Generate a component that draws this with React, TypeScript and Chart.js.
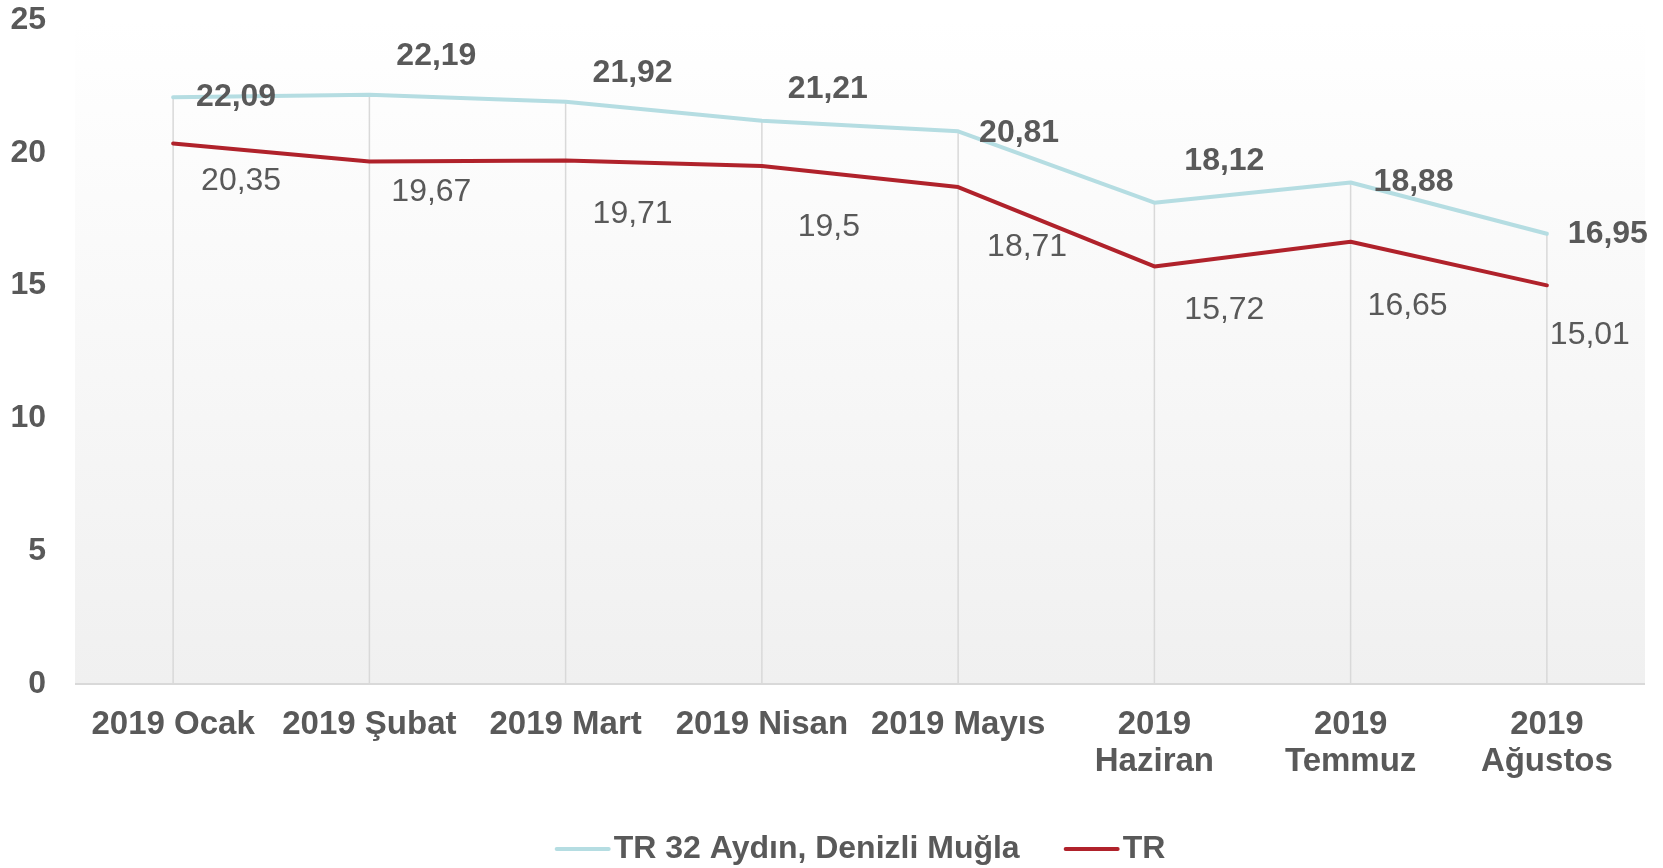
import React, { useEffect, useRef } from 'react';
import { Chart, registerables } from 'chart.js';

Chart.register(...registerables);

// ---- data ----
const categories: (string | string[])[] = [
  '2019 Ocak',
  '2019 Şubat',
  '2019 Mart',
  '2019 Nisan',
  '2019 Mayıs',
  ['2019', 'Haziran'],
  ['2019', 'Temmuz'],
  ['2019', 'Ağustos'],
];
const regionName = 'TR 32 Aydın, Denizli Muğla';
const regionValues = [22.09, 22.19, 21.92, 21.21, 20.81, 18.12, 18.88, 16.95];
const trName = 'TR';
const trValues = [20.35, 19.67, 19.71, 19.5, 18.71, 15.72, 16.65, 15.01];
const yTickValues = [0, 5, 10, 15, 20, 25];

// ---- label placement (offset of label centre from its point) ----
const regionLabelOffsets = [[63, 0], [67, -38], [67, -29], [66, -31], [61, 2], [70, -42], [63, 0], [61, 0]];
const trLabelOffsets = [[68, 38], [62, 31], [67, 54], [67, 61], [69, 60], [70, 44], [57, 64], [43, 50]];

// ---- style ----
const FONT = '"Liberation Sans", Arial, Helvetica, sans-serif';
const TEXT = '#595959';
const CYAN = '#b5dde2';
const RED = '#b0222b';
const GRID = '#d9d9d9';

const fmt = (v: number) => String(v).replace('.', ',');

const decorPlugin = {
  id: 'decor',
  beforeDraw(chart: any) {
    const { ctx, chartArea: a, scales } = chart;
    const x = scales.x;
    const y = scales.y;
    ctx.save();
    const g = ctx.createLinearGradient(0, a.top, 0, a.bottom);
    g.addColorStop(0, '#ffffff');
    g.addColorStop(1, '#f0f0f0');
    ctx.fillStyle = g;
    ctx.fillRect(a.left, a.top, a.right - a.left, a.bottom - a.top);
    ctx.strokeStyle = GRID;
    ctx.lineWidth = 1.5;
    categories.forEach((_, i) => {
      const px = x.getPixelForValue(i);
      const top = y.getPixelForValue(Math.max(regionValues[i], trValues[i]));
      ctx.beginPath();
      ctx.moveTo(px, top);
      ctx.lineTo(px, a.bottom);
      ctx.stroke();
    });
    ctx.lineWidth = 2;
    ctx.beginPath();
    ctx.moveTo(a.left, a.bottom);
    ctx.lineTo(a.right, a.bottom);
    ctx.stroke();
    ctx.restore();
  },
  afterDatasetsDraw(chart: any) {
    const { ctx, scales } = chart;
    const x = scales.x;
    const y = scales.y;
    ctx.save();
    ctx.fillStyle = TEXT;
    ctx.textAlign = 'center';
    ctx.textBaseline = 'middle';
    ctx.font = `bold 32px ${FONT}`;
    regionValues.forEach((v, i) => {
      const [dx, dy] = regionLabelOffsets[i];
      ctx.fillText(fmt(v), x.getPixelForValue(i) + dx, y.getPixelForValue(v) + dy);
    });
    ctx.font = `32px ${FONT}`;
    trValues.forEach((v, i) => {
      const [dx, dy] = trLabelOffsets[i];
      ctx.fillText(fmt(v), x.getPixelForValue(i) + dx, y.getPixelForValue(v) + dy);
    });
    ctx.restore();
  },
  afterDraw(chart: any) {
    const { ctx, chartArea: a } = chart;
    const items = chart.data.datasets.map((d: any) => ({ label: d.label, color: d.borderColor }));
    ctx.save();
    ctx.font = `bold 32px ${FONT}`;
    ctx.textBaseline = 'middle';
    ctx.textAlign = 'left';
    const lineW = 56;
    const gap = 3;
    const spacing = 44;
    const widths = items.map((it: any) => lineW + gap + ctx.measureText(it.label).width);
    const total = widths.reduce((s: number, w: number) => s + w, 0) + spacing * (items.length - 1);
    let cx = (a.left + a.right) / 2 - total / 2;
    const cy = 849;
    items.forEach((it: any, i: number) => {
      ctx.strokeStyle = it.color;
      ctx.lineWidth = 4;
      ctx.lineCap = 'round';
      ctx.beginPath();
      ctx.moveTo(cx + 2, cy);
      ctx.lineTo(cx + lineW - 2, cy);
      ctx.stroke();
      ctx.fillStyle = TEXT;
      ctx.fillText(it.label, cx + lineW + gap, cy);
      cx += widths[i] + spacing;
    });
    ctx.restore();
  },
};

export default function App() {
  const ref = useRef<HTMLCanvasElement | null>(null);
  useEffect(() => {
    if (!ref.current) return;
    Chart.defaults.font.family = FONT;
    const chart = new Chart(ref.current, {
      type: 'line',
      data: {
        labels: categories as any,
        datasets: [
          {
            label: regionName,
            data: regionValues,
            borderColor: CYAN,
            backgroundColor: CYAN,
            borderWidth: 4,
            pointRadius: 0,
            tension: 0,
            borderCapStyle: 'round',
            borderJoinStyle: 'round',
          },
          {
            label: trName,
            data: trValues,
            borderColor: RED,
            backgroundColor: RED,
            borderWidth: 4,
            pointRadius: 0,
            tension: 0,
            borderCapStyle: 'round',
            borderJoinStyle: 'round',
          },
        ],
      },
      options: {
        responsive: false,
        animation: false,
        layout: { padding: { top: 20, right: 18, left: 0, bottom: 0 } },
        plugins: {
          legend: { display: false },
          tooltip: { enabled: false },
          title: { display: false },
        },
        scales: {
          x: {
            type: 'category',
            offset: true,
            grid: { display: false, drawTicks: false },
            border: { display: false },
            ticks: {
              autoSkip: false,
              maxRotation: 0,
              minRotation: 0,
              padding: 22,
              color: TEXT,
              font: { family: FONT, size: 33, weight: 'bold', lineHeight: 1.12 },
            },
            afterFit: (s: any) => {
              s.height = 184;
              s.paddingLeft = 0;
              s.paddingRight = 0;
            },
          },
          y: {
            min: 0,
            max: 25,
            grid: { display: false, drawTicks: false },
            border: { display: false },
            afterBuildTicks: (s: any) => {
              s.ticks = yTickValues.map((v) => ({ value: v }));
            },
            ticks: {
              padding: 29,
              color: TEXT,
              font: { family: FONT, size: 32, weight: 'bold' },
            },
            afterFit: (s: any) => {
              s.width = 75;
              s.paddingTop = 0;
              s.paddingBottom = 0;
            },
          },
        },
      } as any,
      plugins: [decorPlugin],
    });
    return () => chart.destroy();
  }, []);
  return (
    <div style={{ position: 'absolute', left: 0, top: 0, width: 1663, height: 868, background: '#ffffff' }}>
      <canvas ref={ref} width={1663} height={868} style={{ width: 1663, height: 868, display: 'block' }} />
    </div>
  );
}
